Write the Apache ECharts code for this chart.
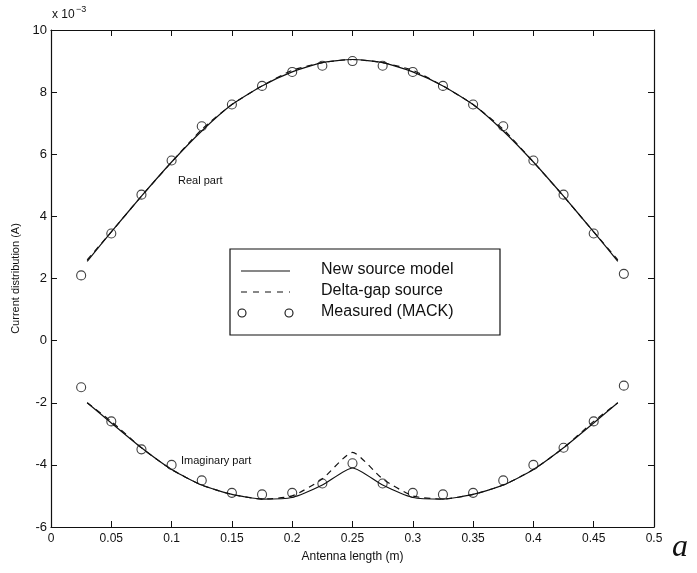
<!DOCTYPE html>
<html>
<head>
<meta charset="utf-8">
<script src="https://cdn.jsdelivr.net/npm/echarts@6/dist/echarts.min.js"></script>
<style>
  html, body { margin: 0; padding: 0; background: #fff; }
  #chart { width: 697px; height: 573px; }
</style>
</head>
<body>
<div id="chart"></div>
<script>
  // values in units of 1e-3 A
  var xLine = [0.03, 0.05, 0.075, 0.1, 0.125, 0.15, 0.175, 0.2, 0.225, 0.25,
               0.275, 0.3, 0.325, 0.35, 0.375, 0.4, 0.425, 0.45, 0.47];
  var realNew   = [2.55, 3.5, 4.65, 5.75, 6.75, 7.6, 8.2, 8.65, 8.95, 9.05,
                   8.95, 8.65, 8.2, 7.6, 6.75, 5.75, 4.65, 3.5, 2.55];
  var realDelta = [2.6, 3.5, 4.65, 5.75, 6.8, 7.6, 8.2, 8.7, 8.95, 9.05,
                   8.95, 8.7, 8.2, 7.6, 6.8, 5.75, 4.65, 3.5, 2.6];
  var imagNew   = [-2.0, -2.65, -3.45, -4.15, -4.65, -4.95, -5.1, -5.05, -4.65, -4.1,
                   -4.65, -5.05, -5.1, -4.95, -4.65, -4.15, -3.45, -2.65, -2.0];
  var imagDelta = [-2.0, -2.6, -3.45, -4.15, -4.65, -4.95, -5.1, -5.0, -4.45, -3.6,
                   -4.45, -5.0, -5.1, -4.95, -4.65, -4.15, -3.45, -2.6, -2.0];

  var xMeas = [0.025, 0.05, 0.075, 0.1, 0.125, 0.15, 0.175, 0.2, 0.225, 0.25,
               0.275, 0.3, 0.325, 0.35, 0.375, 0.4, 0.425, 0.45, 0.475];
  var realMeas = [2.1, 3.45, 4.7, 5.8, 6.9, 7.6, 8.2, 8.65, 8.85, 9.0,
                  8.85, 8.65, 8.2, 7.6, 6.9, 5.8, 4.7, 3.45, 2.15];
  var imagMeas = [-1.5, -2.6, -3.5, -4.0, -4.5, -4.9, -4.95, -4.9, -4.6, -3.95,
                  -4.6, -4.9, -4.95, -4.9, -4.5, -4.0, -3.45, -2.6, -1.45];

  var xTicks = [0, 0.05, 0.1, 0.15, 0.2, 0.25, 0.3, 0.35, 0.4, 0.45, 0.5];
  var yTicks = [-6, -4, -2, 0, 2, 4, 6, 8, 10];

  var legendNames = ['New source model', 'Delta-gap source', 'Measured (MACK)'];

  function pairs(xs, ys) {
    return xs.map(function (x, i) { return [x, ys[i]]; });
  }

  var font = 'Liberation Sans, Arial, Helvetica, sans-serif';
  var ink = '#111';

  var chart = echarts.init(document.getElementById('chart'));

  var lineStyleSolid = { color: ink, width: 1.2, type: 'solid' };
  var lineStyleDash = { color: ink, width: 1.2, type: [6, 5] };

  var axisBase = {
    type: 'value',
    axisLine: { show: true, onZero: false, lineStyle: { color: ink, width: 1.2 } },
    axisTick: { show: true, inside: true, length: 6, lineStyle: { color: ink } },
    splitLine: { show: false }
  };

  chart.setOption({
    animation: false,
    backgroundColor: '#fff',
    grid: { left: 51, right: 43, top: 30, bottom: 46 },
    xAxis: [
      Object.assign({}, axisBase, {
        min: 0, max: 0.5, interval: 0.05, position: 'bottom',
        axisLabel: {
          color: ink, fontFamily: font, fontSize: 12, margin: 6,
          formatter: function (v) { return xTicks.indexOf(Math.round(v * 100) / 100) >= 0 ? String(Math.round(v * 100) / 100) : ''; }
        },
        name: 'Antenna length (m)', nameLocation: 'middle', nameGap: 24,
        nameTextStyle: { color: ink, fontFamily: font, fontSize: 12 }
      }),
      Object.assign({}, axisBase, {
        min: 0, max: 0.5, interval: 0.05, position: 'top',
        axisLabel: { show: false }
      })
    ],
    yAxis: [
      Object.assign({}, axisBase, {
        min: -6, max: 10, interval: 2, position: 'left',
        axisLabel: {
          color: ink, fontFamily: font, fontSize: 13, margin: 4,
          formatter: function (v) { return yTicks.indexOf(v) >= 0 ? String(v) : ''; }
        },
        name: 'Current distribution (A)', nameLocation: 'middle', nameGap: 30,
        nameTextStyle: { color: ink, fontFamily: font, fontSize: 11 }
      }),
      Object.assign({}, axisBase, {
        min: -6, max: 10, interval: 2, position: 'right',
        axisLabel: { show: false }
      })
    ],
    series: [
      { type: 'line', name: legendNames[0], data: pairs(xLine, realNew), showSymbol: false, smooth: 0.2, lineStyle: lineStyleSolid, z: 3 },
      { type: 'line', name: legendNames[0], data: pairs(xLine, imagNew), showSymbol: false, smooth: 0.2, lineStyle: lineStyleSolid, z: 3 },
      { type: 'line', name: legendNames[1], data: pairs(xLine, realDelta), showSymbol: false, smooth: 0.2, lineStyle: lineStyleDash, z: 2 },
      { type: 'line', name: legendNames[1], data: pairs(xLine, imagDelta), showSymbol: false, smooth: 0.2, lineStyle: lineStyleDash, z: 2 },
      { type: 'scatter', name: legendNames[2], data: pairs(xMeas, realMeas), symbol: 'circle', symbolSize: 9,
        itemStyle: { color: 'rgba(255,255,255,0)', borderColor: ink, borderWidth: 1.1 }, z: 4 },
      { type: 'scatter', name: legendNames[2], data: pairs(xMeas, imagMeas), symbol: 'circle', symbolSize: 9,
        itemStyle: { color: 'rgba(255,255,255,0)', borderColor: ink, borderWidth: 1.1 }, z: 4 }
    ],
    graphic: [
      // exponent of the y axis
      { type: 'text', left: 52, top: 9, style: { text: 'x 10', font: '12px ' + font, fill: ink } },
      { type: 'text', left: 76, top: 5, style: { text: '−3', font: '9px ' + font, fill: ink } },
      // curve annotations
      { type: 'text', left: 178, top: 175, style: { text: 'Real part', font: '11px ' + font, fill: ink } },
      { type: 'text', left: 181, top: 455, style: { text: 'Imaginary part', font: '11px ' + font, fill: ink } },
      // legend box
      { type: 'rect', shape: { x: 230, y: 249, width: 270, height: 86 },
        style: { fill: '#fff', stroke: ink, lineWidth: 1.2 }, z: 10 },
      { type: 'line', shape: { x1: 241, y1: 271, x2: 290, y2: 271 }, style: { stroke: ink, lineWidth: 1.2 }, z: 11 },
      { type: 'line', shape: { x1: 241, y1: 292, x2: 290, y2: 292 }, style: { stroke: ink, lineWidth: 1.2, lineDash: [6, 6] }, z: 11 },
      { type: 'circle', shape: { cx: 242, cy: 313, r: 4 }, style: { fill: 'none', stroke: ink, lineWidth: 1.1 }, z: 11 },
      { type: 'circle', shape: { cx: 289, cy: 313, r: 4 }, style: { fill: 'none', stroke: ink, lineWidth: 1.1 }, z: 11 },
      { type: 'text', left: 321, top: 262, z: 11, style: { text: legendNames[0], font: '16px ' + font, fill: ink } },
      { type: 'text', left: 321, top: 283, z: 11, style: { text: legendNames[1], font: '16px ' + font, fill: ink } },
      { type: 'text', left: 321, top: 304, z: 11, style: { text: legendNames[2], font: '16px ' + font, fill: ink } },
      // panel letter
      { type: 'text', left: 672, top: 532, style: { text: 'a', font: 'italic 32px Liberation Serif, Times New Roman, serif', fill: ink } }
    ]
  });
</script>
</body>
</html>
